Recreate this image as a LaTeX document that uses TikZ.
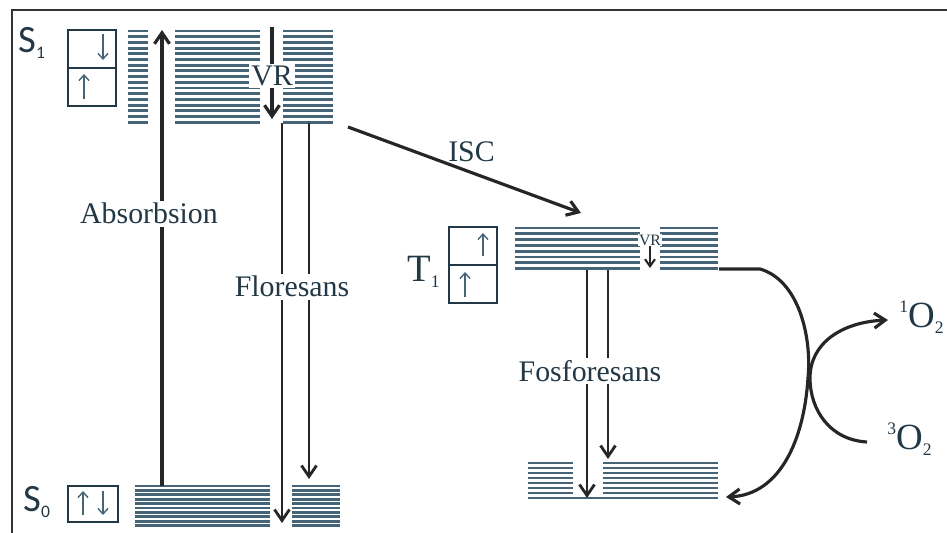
\documentclass[tikz,border=0pt]{standalone}
\usepackage{fontspec}
\setmainfont{Liberation Serif}
\newfontfamily\calfont{Carlito}
\usetikzlibrary{arrows.meta,positioning}

\definecolor{inkblue}{RGB}{34,56,70}
\definecolor{stripeblue}{RGB}{70,100,120}
\newcommand{\lowidx}[1]{\raisebox{-3pt}{\fontsize{10}{10}\selectfont #1}}
\newcommand{\highidx}[1]{\raisebox{9pt}{\fontsize{10}{10}\selectfont #1}}

\begin{document}
\begin{tikzpicture}[x=0.02cm,y=-0.02cm,
node distance=0pt,
stripe/.style={draw=stripeblue,line width=1.6pt},
spinbox/.style={draw=inkblue,line width=0.9pt,minimum width=0.96cm,minimum height=0.76cm,inner sep=0pt,outer sep=0pt},
spin/.style={-{Straight Barb[length=1.1mm,width=2mm]},draw=stripeblue,line width=0.8pt},
trans/.style={-{Straight Barb[length=2.2mm,width=3mm]},line width=1.8pt,draw=black!85},
lbl/.style={fill=white,text=inkblue,inner sep=1.5pt,font=\fontsize{17}{19}\selectfont},
state/.style={text=inkblue,inner sep=0pt,anchor=base west}]
\useasboundingbox (0,0) rectangle (947,533);
\draw[line width=1.4pt,draw=black!80] (12,533) -- (12,10) -- (947,10);

% energy levels
\foreach \i in {0,...,16}{
  \pgfmathsetmacro\yy{31+5.7*\i}
  \draw[stripe] (128,\yy) -- (148,\yy) (175,\yy) -- (260,\yy) (283,\yy) -- (333,\yy);
}
\foreach \i in {0,...,9}{
  \pgfmathsetmacro\yy{486+4.4*\i}
  \draw[stripe] (135,\yy) -- (270,\yy) (292,\yy) -- (340,\yy);
}
\foreach \i in {0,...,7}{
  \pgfmathsetmacro\yy{228+5.8*\i}
  \draw[stripe] (515,\yy) -- (640,\yy) (660,\yy) -- (718,\yy);
}
\foreach \i in {0,...,6}{
  \pgfmathsetmacro\yy{463+5*\i}
  \draw[stripe] (528,\yy) -- (573,\yy) (603,\yy) -- (718,\yy);
}
\draw[stripe] (528,498) -- (718,498);

% state labels
\node[state,font=\calfont\fontsize{22}{24}\selectfont] (s1lab) at (18,53) {S\lowidx{1}};
\node[state,font=\calfont\fontsize{22}{24}\selectfont] (s0lab) at (23,512) {S\lowidx{0}};
\node[state,font=\fontsize{22}{24}\selectfont] (t1lab) at (407,282) {T\lowidx{1}};
\node[state,font=\fontsize{21}{23}\selectfont] (o1lab) at (899,328) {\highidx{1}O\lowidx{2}};
\node[state,font=\fontsize{21}{23}\selectfont] (o3lab) at (887,450) {\highidx{3}O\lowidx{2}};

% spin boxes
\node[spinbox] (s1hi) at (92,49) {};
\node[spinbox,below=of s1hi] (s1lo) {};
\node[spinbox,minimum width=1cm,minimum height=0.72cm] (s0box) at (93,504) {};
\node[spinbox] (t1hi) at (473,246) {};
\node[spinbox,below=of t1hi] (t1lo) {};
\draw[spin] ([shift={(-13,4)}]s1hi.north east) -- ([shift={(-13,-8)}]s1hi.south east);
\draw[spin] ([shift={(16,-7)}]s1lo.south west) -- ([shift={(16,6)}]s1lo.north west);
\draw[spin] ([shift={(15,-7)}]s0box.south west) -- ([shift={(15,5)}]s0box.north west);
\draw[spin] ([shift={(-15,5)}]s0box.north east) -- ([shift={(-15,-7)}]s0box.south east);
\draw[spin] ([shift={(-14,-9)}]t1hi.south east) -- ([shift={(-14,6)}]t1hi.north east);
\draw[spin] ([shift={(16,-6)}]t1lo.south west) -- ([shift={(16,7)}]t1lo.north west);

% transitions
\coordinate (absS0) at (162,486);
\coordinate (absS1) at (162,30);
\coordinate (vrtop) at (272,27);
\coordinate (vrbot) at (272,119);
\coordinate (flA1) at (282,123);
\coordinate (flA0) at (282,523);
\coordinate (flB1) at (309,123);
\coordinate (flB0) at (309,479);
\coordinate (iscA) at (348,127);
\coordinate (iscB) at (581,213);
\coordinate (vrtA) at (650,246);
\coordinate (vrtB) at (650,268);
\coordinate (phA1) at (587,270);
\coordinate (phA0) at (587,498);
\coordinate (phB1) at (608,270);
\coordinate (phB0) at (608,459);
\coordinate (t1out) at (719,269);
\coordinate (gndin) at (726,497);
\coordinate (o3in) at (867,442);
\coordinate (o1out) at (888,320);

\draw[trans] (absS0) -- node[lbl,pos=0.597,xshift=-0.26cm] (abslab) {Absorbsion} (absS1);
\draw[trans] (vrtop) -- node[lbl,pos=0.53,inner sep=1pt] (vr1lab) {VR} (vrbot);
\draw[trans,line width=1.6pt] (flA1) -- (flA0);
\draw[trans,line width=1.6pt] (flB1) -- node[lbl,pos=0.46,xshift=-0.34cm] (fllab) {Floresans} (flB0);
\draw[trans] (iscA) -- node[lbl,fill=none,above=4pt,pos=0.53] (isclab) {ISC} (iscB);
\draw[trans,-{Straight Barb[length=1.4mm,width=2mm]},line width=1.2pt] (vrtA) -- (vrtB);
\node[lbl,inner sep=0.5pt,font=\fontsize{9}{10}\selectfont] (vr2lab) at (650,240) {VR};
\draw[trans,line width=1.6pt] (phA1) -- (phA0);
\draw[trans,line width=1.6pt] (phB1) -- node[lbl,pos=0.535,xshift=-0.36cm] (phlab) {Fosforesans} (phB0);
\draw[trans] (t1out) -- (760,269) .. controls (798,280) and (812,335) .. (808,378)
  .. controls (804,440) and (780,495) .. (gndin);
\draw[trans] (o3in) .. controls (830,440) and (810,410) .. (810,378)
  .. controls (810,343) and (842,322) .. (o1out);
\end{tikzpicture}
\end{document}
